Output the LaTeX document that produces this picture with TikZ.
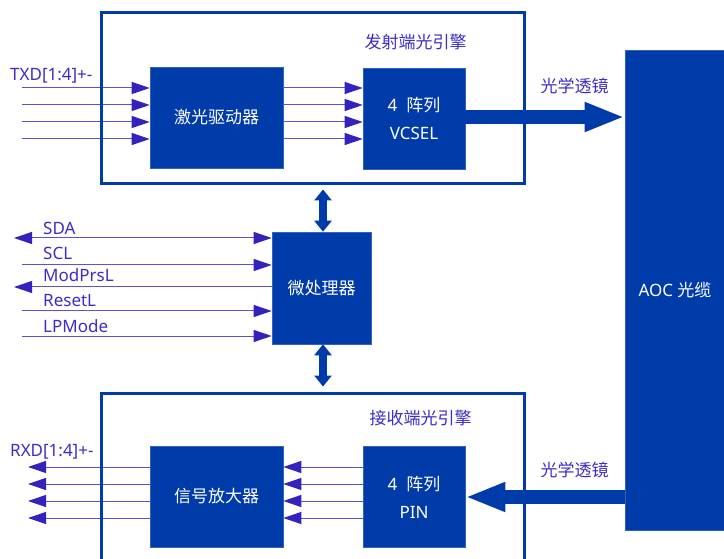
\documentclass[tikz,border=0pt]{standalone}
\usepackage{fontspec}
\setmainfont{Noto Sans}
\newfontfamily\cjk{Noto Sans CJK SC}
\usetikzlibrary{arrows.meta}
\definecolor{boxblue}{HTML}{003BAA}
\definecolor{lbl}{HTML}{3B2EC8}
\definecolor{sigline}{HTML}{5B52D6}
\definecolor{tipc}{HTML}{3322BB}
\begin{document}
\begin{tikzpicture}[x=1pt,y=-1pt,
  blk/.style={fill=boxblue,draw=boxblue!80!white,line width=0.6pt,text=white,inner sep=0pt,
    font=\fontsize{17}{28}\selectfont,align=center},
  frame/.style={draw=boxblue,line width=3pt,inner sep=0pt},
  lab/.style={text=lbl,font=\fontsize{17}{20}\selectfont,inner sep=0pt},
  sig/.style={draw=sigline,line width=1pt},
  sigR/.style={-{Triangle[length=18pt,width=12pt,color=tipc]}},
  sigB/.style={{Triangle[length=18pt,width=12pt,color=tipc]}-{Triangle[length=18pt,width=12pt,color=tipc]}},
  big/.style={draw=boxblue,line width=14pt,-{Triangle[length=40pt,width=27pt]}},
  vdbl/.style={draw=boxblue,line width=8pt,{Triangle[length=11pt,width=17pt]}-{Triangle[length=11pt,width=17pt]}}]
\clip (0,0) rectangle (724,559);
\fill[white] (0,0) rectangle (724,559);
% blocks
\node[blk,minimum width=133,minimum height=101] (drv) at (216.5,117.5) {\cjk 激光驱动器};
\node[blk,minimum width=102,minimum height=101] (vcsel) at (414,118.5) {4\ \ {\cjk 阵列}\\VCSEL};
\node[blk,minimum width=99,minimum height=112] (mcu) at (321.5,288) {\cjk 微处理器};
\node[blk,minimum width=133,minimum height=101] (amp) at (216.5,496.5) {\cjk 信号放大器};
\node[blk,minimum width=102,minimum height=101] (pin) at (414,497) {4\ \ {\cjk 阵列}\\PIN};
\node[blk,minimum width=100,minimum height=480] (aoc) at (675,290.5) {AOC {\cjk 光缆}};
% TX lines
\foreach \y [count=\i] in {88,105,122,139} {
  \coordinate (txin\i) at (22,\y);
  \draw[sig,sigR] (txin\i) -- (txin\i -| drv.west);
  \draw[sig,sigR] (txin\i -| drv.east) -- (txin\i -| vcsel.west);
}
% RX lines
\foreach \y [count=\i] in {467,484,501,518} {
  \coordinate (rxout\i) at (28,\y);
  \draw[sig,sigR] (rxout\i -| amp.west) -- (rxout\i);
  \draw[sig,sigR] (rxout\i -| pin.west) -- (rxout\i -| amp.east);
}
% MCU signals
\coordinate (sdaL) at (14,238);
\coordinate (sclL) at (22,265);
\coordinate (modL) at (14,287);
\coordinate (rstL) at (22,311);
\coordinate (lpL) at (22,336);
\draw[sig,sigB] (sdaL) -- (sdaL -| mcu.west);
\draw[sig,sigR] (sclL) -- (sclL -| mcu.west);
\draw[sig,sigR] (modL -| mcu.west) -- (modL);
\draw[sig,sigR] (rstL) -- (rstL -| mcu.west);
\draw[sig,sigR] (lpL) -- (lpL -| mcu.west);
% frames
\node[frame,minimum width=423,minimum height=171] (tx) at (312.5,98.5) {};
\node[frame,minimum width=423,minimum height=207] (rx) at (312.5,496.5) {};
% big arrows
\draw[big] ([yshift=1.5]vcsel.east) -- ([yshift=1.5]vcsel.east -| aoc.west);
\draw[big] (pin.east -| aoc.west) -- (pin.east);
% vertical double arrows
\draw[vdbl,shorten >=4pt] ([xshift=1.5]mcu.north) -- ([xshift=1.5]mcu.north |- tx.south);
\draw[vdbl,shorten >=5pt] ([xshift=1.5]mcu.south) -- ([xshift=1.5]mcu.south |- rx.north);
% labels
\node[lab,anchor=base west] (txd) at (10,81) {TXD[1:4]+-};
\node[lab,anchor=base west] (rxd) at (10,456) {RXD[1:4]+-};
\node[lab,anchor=base west] (lsda) at (43,235) {SDA};
\node[lab,anchor=base west] (lscl) at (43,260) {SCL};
\node[lab,anchor=base west] (lmod) at (43,282) {ModPrsL};
\node[lab,anchor=base west] (lrst) at (43,307) {ResetL};
\node[lab,anchor=base west] (llp) at (43,332) {LPMode};
\node[lab,font=\cjk\fontsize{17}{20}\selectfont] (ltx) at (415.5,42) {发射端光引擎};
\node[lab,font=\cjk\fontsize{17}{20}\selectfont] (lrx) at (420.5,418) {接收端光引擎};
\node[lab,font=\cjk\fontsize{17}{20}\selectfont] (lens1) at (574.5,86) {光学透镜};
\node[lab,font=\cjk\fontsize{17}{20}\selectfont] (lens2) at (574.5,470) {光学透镜};
\end{tikzpicture}
\end{document}
